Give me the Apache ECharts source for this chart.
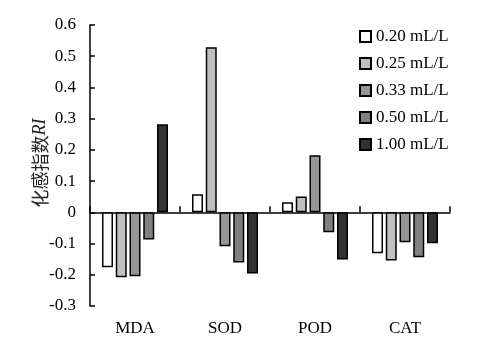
<!DOCTYPE html>
<html>
<head>
<meta charset="utf-8">
<script src="https://cdn.jsdelivr.net/npm/echarts@6/dist/echarts.min.js"></script>
<style>html,body{margin:0;padding:0;background:#fff;}#c{width:480px;height:354px;}</style>
</head>
<body>
<div id="c"></div>
<script>
const categories = ['MDA', 'SOD', 'POD', 'CAT'];
const seriesNames = ['0.20 mL/L', '0.25 mL/L', '0.33 mL/L', '0.50 mL/L', '1.00 mL/L'];
const s020 = [-0.176, 0.058, 0.032, -0.131];
const s025 = [-0.208, 0.529, 0.051, -0.154];
const s033 = [-0.205, -0.109, 0.183, -0.096];
const s050 = [-0.087, -0.161, -0.064, -0.144];
const s100 = [0.282, -0.196, -0.151, -0.099];
const yTicks = { min: -0.3, max: 0.6, interval: 0.1 };
const yName = '化感指数';
const yNameItalic = 'RI';

const colors = ['#ffffff', '#c0c0c0', '#969696', '#808080', '#333333'];
const values = [s020, s025, s033, s050, s100];
const font = 'Liberation Serif, Times New Roman, serif';

const chart = echarts.init(document.getElementById('c'));
chart.setOption({
  animation: false,
  backgroundColor: '#fff',
  grid: { left: 90, right: 30, top: 25, bottom: 48 },
  legend: {
    orient: 'vertical', left: 354, top: 23,
    itemWidth: 11, itemHeight: 11, itemGap: 10,
    icon: 'rect',
    textStyle: { fontFamily: font, fontSize: 17, color: '#000' },
    data: seriesNames
  },
  xAxis: [
    {
      type: 'category', data: categories, position: 'bottom',
      axisLine: { show: false, onZero: false }, axisTick: { show: false },
      axisLabel: { fontFamily: font, fontSize: 17, color: '#000', margin: 14 },
      splitLine: { show: false }
    },
    {
      type: 'category', data: categories, position: 'bottom',
      axisLine: { onZero: true, lineStyle: { color: '#000', width: 1.5 } },
      axisTick: { show: true, inside: true, length: 6, lineStyle: { color: '#000', width: 1.5 } },
      axisLabel: { show: false }, splitLine: { show: false }
    }
  ],
  yAxis: {
    type: 'value', min: yTicks.min, max: yTicks.max, interval: yTicks.interval,
    name: '{a|' + yName + '}{b|' + yNameItalic + '}',
    nameLocation: 'middle', nameRotate: 90, nameGap: 41, nameMoveOverlap: false,
    nameTextStyle: {
      padding: [0, 0, 0, 5],
      rich: {
        a: { fontFamily: 'Noto Sans CJK SC, sans-serif', fontSize: 18, color: '#222' },
        b: { fontFamily: font, fontSize: 18, fontStyle: 'italic', color: '#222' }
      }
    },
    axisLine: { show: true, onZero: false, lineStyle: { color: '#000', width: 1.5 } },
    axisTick: { show: true, inside: true, length: 5, lineStyle: { color: '#000', width: 1.5 } },
    axisLabel: {
      fontFamily: font, fontSize: 17, color: '#000', margin: 14,
      formatter: v => Math.abs(v) < 1e-9 ? '0' : v.toFixed(1)
    },
    splitLine: { show: false }
  },
  series: seriesNames.map((n, i) => ({
    name: n, type: 'bar', xAxisIndex: 0,
    data: values[i], barWidth: 11, barGap: '25%',
    itemStyle: { color: colors[i], borderColor: '#000', borderWidth: 1.5 }
  }))
});
</script>
</body>
</html>
